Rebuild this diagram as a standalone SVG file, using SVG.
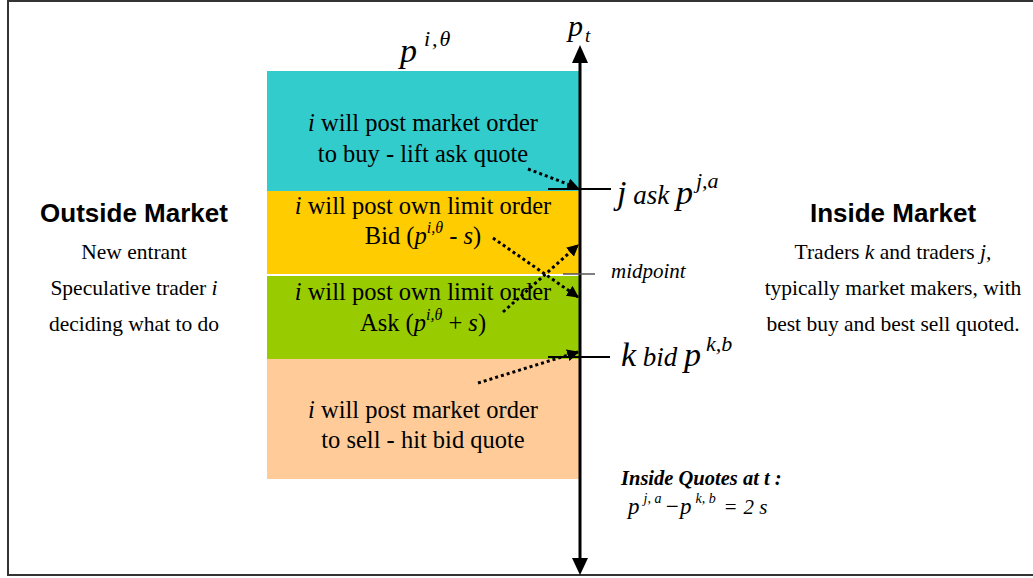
<svg xmlns="http://www.w3.org/2000/svg" width="1033" height="578" viewBox="0 0 1033 578">
<defs>
<style>
.i{font-style:italic}
.dot{fill:none;stroke:#000;stroke-width:3;stroke-dasharray:3 3}
</style>
<marker id="ah" viewBox="0 0 10 10" refX="9" refY="5" markerWidth="4" markerHeight="4" orient="auto" markerUnits="strokeWidth">
<path d="M0,0 L10,5 L0,10 z" fill="#000"/>
</marker>
</defs>
<rect width="1033" height="578" fill="#fff"/>
<path d="M1033,1 H8 V575 H1033" fill="none" stroke="#333" stroke-width="2"/>

<g font-family="Liberation Serif, Times New Roman, serif" fill="#000">
<g id="zone-buy">
<rect x="267" y="71" width="313" height="120" fill="#33CCCC"/>
<text font-size="24.5" text-anchor="middle" x="423" y="131"><tspan class="i">i</tspan>  will post market order</text>
<text font-size="24.5" text-anchor="middle" x="423" y="162">to buy - lift ask quote</text>
</g>
<g id="zone-bid">
<rect x="267" y="191" width="313" height="83" fill="#FFCC00"/>
<text font-size="24.5" text-anchor="middle" x="423" y="214"><tspan class="i">i</tspan> will post own limit order</text>
<text font-size="24.5" text-anchor="middle" x="423" y="244">Bid (<tspan class="i">p</tspan><tspan class="i" font-size="16" dy="-11">i,θ</tspan><tspan dy="11"> - </tspan><tspan class="i">s</tspan>)</text>
</g>
<g id="zone-ask">
<rect x="267" y="276" width="313" height="83" fill="#99CC00"/>
<text font-size="24.5" text-anchor="middle" x="423" y="300"><tspan class="i">i</tspan> will post own limit order</text>
<text font-size="24.5" text-anchor="middle" x="423" y="331">Ask (<tspan class="i">p</tspan><tspan class="i" font-size="16" dy="-11">i,θ</tspan><tspan dy="11"> + </tspan><tspan class="i">s</tspan>)</text>
</g>
<g id="zone-sell">
<rect x="267" y="359" width="313" height="120" fill="#FFCC99"/>
<text font-size="24.5" text-anchor="middle" x="423" y="418"><tspan class="i">i</tspan> will post market order</text>
<text font-size="24.5" text-anchor="middle" x="423" y="448">to sell - hit bid quote</text>
</g>

<g id="price-theta">
<text class="i" font-size="34" x="400" y="62">p</text>
<text class="i" font-size="22" x="424" y="46" letter-spacing="2">i,θ</text>
</g>

<g id="axis">
<line x1="580" y1="60" x2="580" y2="560" stroke="#000" stroke-width="3"/>
<path d="M580,45 L572,63 L588,63 z" fill="#000"/>
<path d="M580,575 L572,558 L588,558 z" fill="#000"/>
<text class="i" font-size="30" x="568" y="36">p</text>
<text class="i" font-size="19" x="585" y="42">t</text>
</g>

<g id="ask-quote">
<line x1="548" y1="189" x2="611" y2="189" stroke="#000" stroke-width="2"/>
<text class="i" x="617" y="204"><tspan font-size="34">j</tspan><tspan font-size="27"> ask </tspan><tspan font-size="34">p</tspan><tspan font-size="22" dx="3" dy="-16">j,a</tspan></text>
</g>
<g id="midpoint">
<line x1="563" y1="274" x2="595" y2="274" stroke="#555" stroke-width="1.5"/>
<text class="i" font-size="21" x="611" y="278">midpoint</text>
</g>
<g id="bid-quote">
<line x1="548" y1="357" x2="610" y2="357" stroke="#000" stroke-width="2"/>
<text class="i" x="621" y="366"><tspan font-size="34">k</tspan><tspan font-size="27"> bid </tspan><tspan font-size="34">p</tspan><tspan font-size="22" dx="5" dy="-15">k,b</tspan></text>
</g>

<g id="outside-market">
<text font-family="Liberation Sans, Arial, sans-serif" font-size="26" font-weight="bold" text-anchor="middle" x="134" y="222">Outside Market</text>
<text font-size="21.5" text-anchor="middle" x="134" y="259">New entrant</text>
<text font-size="21.5" text-anchor="middle" x="134" y="295">Speculative trader <tspan class="i">i</tspan></text>
<text font-size="21.5" text-anchor="middle" x="134" y="331">deciding what to do</text>
</g>

<g id="inside-market">
<text font-family="Liberation Sans, Arial, sans-serif" font-size="26" font-weight="bold" text-anchor="middle" x="893" y="222">Inside Market</text>
<text font-size="21.5" text-anchor="middle" x="893" y="259">Traders <tspan class="i">k</tspan> and traders <tspan class="i">j,</tspan></text>
<text font-size="21.5" text-anchor="middle" x="893" y="295">typically market makers, with</text>
<text font-size="21.5" text-anchor="middle" x="893" y="331">best buy and best sell quoted.</text>
</g>

<g id="inside-quotes">
<text class="i" font-size="20.5" font-weight="bold" x="621" y="485">Inside Quotes at t :</text>
<text class="i" x="628" y="514"><tspan font-size="23">p</tspan><tspan font-size="14" dx="4" dy="-11">j, a</tspan><tspan font-size="23" dx="3" dy="11">−p</tspan><tspan font-size="14" dx="4" dy="-11">k, b</tspan><tspan font-size="21" dx="9" dy="11" font-style="normal">=</tspan><tspan font-size="21" dx="7">2 s</tspan></text>
</g>
</g>

<g id="connectors">
<line class="dot" x1="528" y1="169" x2="578" y2="188" marker-end="url(#ah)"/>
<line class="dot" x1="493" y1="238" x2="578" y2="297" marker-end="url(#ah)"/>
<line class="dot" x1="503" y1="312" x2="578" y2="245" marker-end="url(#ah)"/>
<line class="dot" x1="478" y1="383" x2="578" y2="352" marker-end="url(#ah)"/>
</g>
</svg>
